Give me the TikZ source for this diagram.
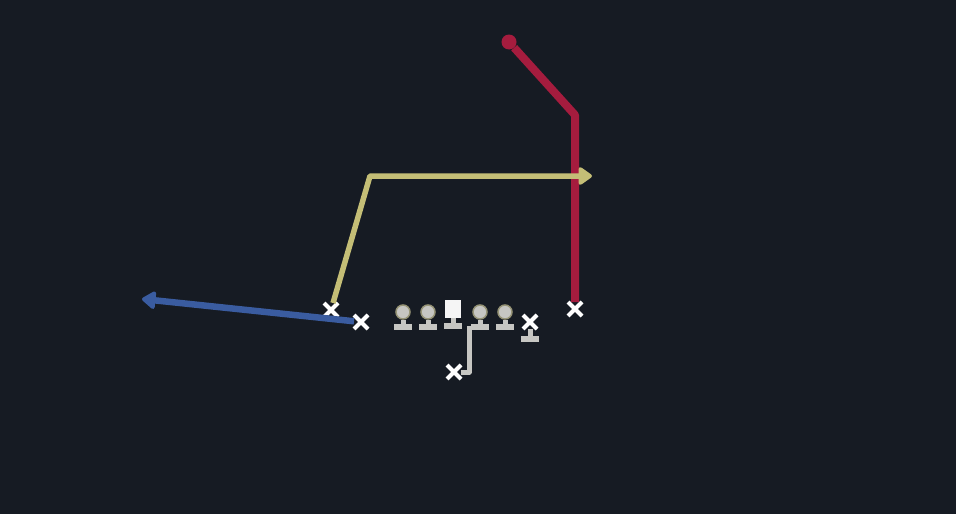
\documentclass[tikz,border=0pt]{standalone}
\usetikzlibrary{arrows.meta,shapes.misc}

\definecolor{field}{RGB}{22,27,35}
\definecolor{pred}{RGB}{165,28,62}
\definecolor{pyellow}{RGB}{196,190,118}
\definecolor{pblue}{RGB}{58,92,160}
\definecolor{pgray}{RGB}{198,198,194}
\definecolor{prim}{RGB}{150,148,118}

\tikzset{
  head/.style={shape=circle,fill=pgray,draw=prim,line width=1.5pt,minimum size=14pt,inner sep=0pt},
  snap/.style={shape=rectangle,fill=white!92!gray,minimum width=16pt,minimum height=18pt,inner sep=0pt},
  foot/.style={shape=rectangle,fill=pgray,minimum width=18pt,minimum height=6pt,inner sep=0pt},
  stand/.style={pgray,line width=5pt},
  spot/.style={shape=cross out,draw=white,line width=4pt,minimum size=10pt,inner sep=0pt},
  route/.style={line width=5.5pt,line join=round},
  tip/.style={-{Triangle[length=15pt,width=20pt,round]}},
}

\begin{document}
\begin{tikzpicture}[x=1pt,y=-1pt]
        \fill[field] (0,0) rectangle (956,514);
        \useasboundingbox (0,0) rectangle (956,514);

        % line
        \node[head] (LT) at (403,312) {};
        \node[head] (LG) at (428,312) {};
        \node[snap] (C) at (453,309) {};
        \node[head] (RG) at (480,312) {};
        \node[head] (RT) at (505,312) {};
        \node[foot] (LTf) at (403,327) {};
        \node[foot] (LGf) at (428,327) {};
        \node[foot] (Cf) at (453,326) {};
        \node[foot] (RGf) at (480,327) {};
        \node[foot] (RTf) at (505,327) {};
        \path [stand] (LT) edge (LTf);
        \path [stand] (LG) edge (LGf);
        \path [stand] (C) edge (Cf);
        \path [stand] (RG) edge (RGf);
        \path [stand] (RT) edge (RTf);

        % tight end
        \node[spot] (TE) at (530,322) {};
        \node[foot] (TEf) at (530,339) {};
        \path [stand] (TE) edge (TEf);

        % skill players
        \node[spot] (QB) at (454,372) {};
        \node[spot] (Y) at (331,310) {};
        \node[spot] (B) at (361,322) {};
        \node[spot] (Z) at (575,309) {};
        \node[shape=circle,fill=pred,minimum size=15pt,inner sep=0pt] (Zs) at (509,42) {};

        \coordinate (Qk) at (469,372);
        \coordinate (Qe) at (469,326);
        \coordinate (Yk) at (370,176);
        \coordinate (Ye) at (592,176);
        \coordinate (Be) at (142,299);
        \coordinate (Zk) at (575,115);

        % routes
        \draw[route,pgray,line width=5pt] (QB) -- (Qk) -- (Qe);
        \draw[route,pred,line width=8pt] (Zs) -- (Zk) -- (Z);
        \draw[route,pyellow,tip] (Y) -- (Yk) -- (Ye);
        \draw[route,pblue,line width=6.5pt,tip] (B) -- (Be);
    \end{tikzpicture}
\end{document}
